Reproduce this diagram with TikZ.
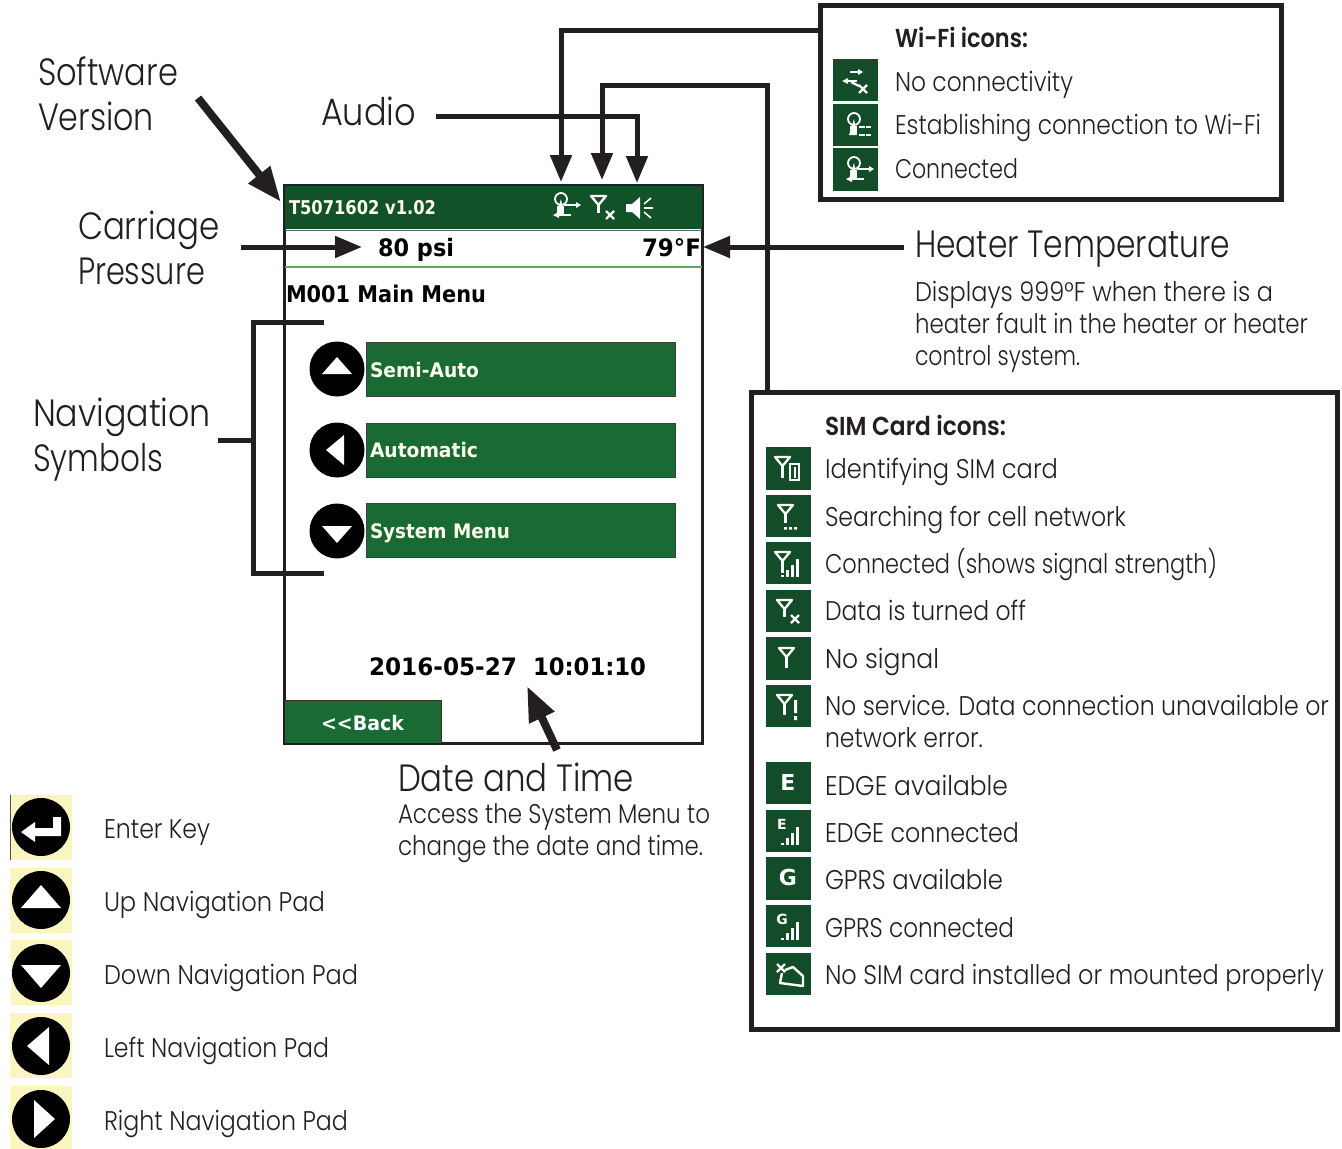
\documentclass[tikz,border=0pt]{standalone}
\usepackage{graphicx}
\usepackage{fontspec}
\usetikzlibrary{arrows.meta}
\newfontfamily\fut{Poppins}[UprightFont=* Light,BoldFont=* SemiBold]
\newfontfamily\scr{DejaVu Sans}
\definecolor{icongreen}{HTML}{134C28}
\definecolor{headgreen}{HTML}{125229}
\definecolor{btngreen}{HTML}{196A33}
\definecolor{keyyellow}{HTML}{FBF6C0}
\definecolor{ink}{HTML}{231F20}
\newsavebox\fbx
\newlength\fbl
\newcommand\fitw[2]{\sbox\fbx{#2}\fbl=\wd\fbx\pgfmathsetmacro\fitf{#1/\the\fbl}\scalebox{\fitf}[1]{\usebox\fbx}}
\tikzset{
 x=1pt,y=-1pt,
 lab/.style={anchor=base west,inner sep=0pt,outer sep=0pt,text=ink},
 conn/.style={draw=ink,line width=5pt,line cap=butt,line join=miter},
 arr/.style={conn,-{Triangle[length=27pt,width=21pt]}},
 bigarr/.style={draw=ink,line width=8pt,line cap=butt,-{Triangle[length=35pt,width=26pt]}},
 iconbg/.style={anchor=north west,fill=icongreen,inner sep=0pt,minimum width=45pt,text=white},
 btn/.style={anchor=north west,fill=btngreen,draw=black!75,line width=1pt,inner sep=0pt,minimum width=309pt,minimum height=54pt},
 wl/.style={draw=white,line width=2.3pt},
}
% text helpers
\newcommand\Ft[2]{\fut\fontsize{#1}{#1}\selectfont #2}
\newcommand\Sc[2]{\scr\bfseries\fontsize{#1}{#1}\selectfont #2}
% small pictograms, drawn relative to an icon's top-left corner
\newcommand\antennashape{%
 \draw[wl,line join=round] (9,10)--(24,10)--(16.5,19)--cycle;
 \draw[wl] (16.5,17)--(16.5,31);}
\newcommand\sbars{%
 \fill[white] (15,33) rectangle (18,35);
 \fill[white] (20,28) rectangle (23,35);
 \fill[white] (25,23) rectangle (28,35);
 \fill[white] (30,17) rectangle (33,35);}
\newcommand\xmark[2]{\draw[wl,line width=2.4pt] (#1-4,#2-4)--(#1+4,#2+4) (#1-4,#2+4)--(#1+4,#2-4);}
\newcommand\wifishape{%
 \draw[wl,line width=1.8pt] (21,15) circle (6);
 \fill[white] (21,15)--(24,31)--(16,31)--cycle;
 \fill[white] (17,22) rectangle (24,31);}
\newcommand\keybg[3]{\fill[keyyellow] (#1,#2) rectangle (72,#3);}
\begin{document}
\begin{tikzpicture}
\useasboundingbox (0,0) rectangle (1342,1149);
% ---------- screen ----------
\node[anchor=north west,minimum width=418.5pt,minimum height=558pt,inner sep=0pt,draw=ink,line width=3pt,fill=white] (screen) at (282.7,183.5) {};
\fill[headgreen] (285,186) rectangle (702,229);
\draw[draw=black!60,line width=.8pt] (285,230)--(702,230);
\draw[draw=green!40!black!60,line width=1.6pt] (285,267)--(702,267);
\fill[btngreen] (285,700) rectangle (441,743);
\draw[black!80,line width=1pt] (285,700)--(441,700)--(441,743);
\node[btn] (b1) at (366,342) {};
\node[btn] (b2) at (366,422.5) {};
\node[btn] (b3) at (366,503) {};
\node[lab,text=white!92!yellow] (ver) at (289,214) {\fitw{147}{\Sc{19}{T5071602 v1.02}}};
\node[lab,text=black] (psi) at (378,256) {\fitw{76}{\Sc{24}{80 psi}}};
\node[lab,text=black] (temp) at (642,256) {\fitw{59}{\Sc{24}{79°F}}};
\node[lab,text=black] (menu) at (286,302) {\fitw{200}{\Sc{23}{M001 Main Menu}}};
\node[lab,text=white!92!yellow] (t1) at (370,377) {\fitw{109}{\Sc{20}{Semi-Auto}}};
\node[lab,text=white!92!yellow] (t2) at (370,457) {\fitw{108}{\Sc{20}{Automatic}}};
\node[lab,text=white!92!yellow] (t3) at (370,538) {\fitw{140}{\Sc{20}{System Menu}}};
\node[lab,text=black] (date) at (369,675) {\fitw{148}{\Sc{24}{2016-05-27}}};
\node[lab,text=black] (clock) at (533,675) {\fitw{113}{\Sc{24}{10:01:10}}};
\node[lab,text=white] (back) at (321,730) {\fitw{83}{\Sc{20}{<{}<Back}}};
% screen nav symbols
\node[circle,fill=black,minimum size=55pt,inner sep=0pt] (c1) at (337,369) {};
\node[circle,fill=black,minimum size=55pt,inner sep=0pt] (c2) at (337,450) {};
\node[circle,fill=black,minimum size=55pt,inner sep=0pt] (c3) at (337,531) {};
\fill[white] (322,374)--(352,374)--(337,357)--cycle;
\fill[white] (326,450)--(344,435)--(344,465)--cycle;
\fill[white] (322,526)--(352,526)--(337,543)--cycle;
% header pictograms
\begin{scope}[shift={(540,184)}]
 \wifishape
 \draw[wl] (24,21)--(37,21); \fill[white] (36,18)--(41,21)--(36,24)--cycle;
 \draw[wl] (18,31)--(31,31); \fill[white] (19,28)--(13,31)--(19,34)--cycle;
\end{scope}
\begin{scope}[shift={(579,186)}]
 \draw[wl,line join=round] (12,10)--(27,10)--(19.5,19)--cycle;
 \draw[wl] (19.5,17)--(19.5,27);
 \xmark{31}{29}
\end{scope}
\fill[white] (626,204)--(632,204)--(640,197)--(640,219)--(632,212)--(626,212)--cycle;
\draw[wl,line width=1.6pt] (644,204)--(651,198) (644,208)--(653,208) (644,212)--(651,218);
% ---------- wifi box ----------
\node[anchor=north west,minimum width=461pt,minimum height=194pt,inner sep=0pt,draw=ink,line width=4.5pt] (wifibox) at (818,3) {};
\node[lab] (wifih) at (895,47) {\fitw{133}{\fut\bfseries\fontsize{26}{26}\selectfont Wi-Fi icons:}};
\node[iconbg,minimum height=42pt] (w1) at (833,59) {};
\node[iconbg,minimum height=42pt] (w2) at (833,104) {};
\node[iconbg,minimum height=43pt] (w3) at (833,148) {};
\node[lab] (wt1) at (895,91) {\fitw{178}{\Ft{27}{No connectivity}}};
\node[lab] (wt2) at (895,134) {\fitw{366}{\Ft{27}{Establishing connection to Wi-Fi}}};
\node[lab] (wt3) at (895,178) {\fitw{123}{\Ft{27}{Connected}}};
\begin{scope}[shift={(833,59)}]
 \draw[wl] (17,13)--(26,13); \fill[white] (25,10)--(30,13)--(25,16)--cycle;
 \draw[wl] (14,22)--(24,22); \fill[white] (15,19)--(9,22)--(15,25)--cycle;
 \draw[wl] (18,23)--(26,27); \xmark{30}{30}
\end{scope}
\begin{scope}[shift={(833,104)}]
 \wifishape
 \draw[wl,dash pattern=on 6pt off 1pt] (26,23)--(38,23);
 \draw[wl,dash pattern=on 6pt off 1pt] (26,31)--(38,31);
\end{scope}
\begin{scope}[shift={(833,148)}]
 \wifishape
 \draw[wl] (24,21)--(37,21); \fill[white] (36,18)--(41,21)--(36,24)--cycle;
 \draw[wl] (18,31)--(31,31); \fill[white] (19,28)--(13,31)--(19,34)--cycle;
\end{scope}
% ---------- SIM box ----------
\node[anchor=north west,minimum width=586pt,minimum height=637pt,inner sep=0pt,draw=ink,line width=4.5pt,fill=white] (simbox) at (749,390) {};
\node[lab] (simh) at (825,435) {\fitw{181}{\fut\bfseries\fontsize{26}{26}\selectfont SIM Card icons:}};
\node[iconbg,minimum height=43pt] (s1) at (766,447) {};
\node[iconbg,minimum height=42pt] (s2) at (766,495) {};
\node[iconbg,minimum height=42pt] (s3) at (766,542) {};
\node[iconbg,minimum height=42pt] (s4) at (766,590) {};
\node[iconbg,minimum height=43pt] (s5) at (766,637) {};
\node[iconbg,minimum height=42pt] (s6) at (766,685) {};
\node[iconbg,minimum height=42pt] (s7) at (766,762) {};
\node[iconbg,minimum height=42pt] (s8) at (766,810) {};
\node[iconbg,minimum height=43pt] (s9) at (766,857) {};
\node[iconbg,minimum height=42pt] (s10) at (766,905) {};
\node[iconbg,minimum height=42pt] (s11) at (766,953) {};
\node[inner sep=0pt,text=white] (e7) at (788,782) {\Sc{22}{E}};
\node[inner sep=0pt,text=white] (g9) at (788,877) {\Sc{22}{G}};
\begin{scope}[shift={(766,447)}]
 \antennashape
 \draw[white,line width=1.6pt] (24,17) rectangle (33,33);
 \fill[white] (27.5,20) rectangle (29.5,31);
\end{scope}
\begin{scope}[shift={(766,495)}]
 \draw[wl,line join=round] (12,10)--(27,10)--(19.5,19)--cycle;
 \draw[wl] (19.5,17)--(19.5,28);
 \fill[white] (18,32) rectangle (21,34.5) (23,32) rectangle (26,34.5) (28,32) rectangle (31,34.5);
\end{scope}
\begin{scope}[shift={(766,542)}]
 \antennashape \sbars
\end{scope}
\begin{scope}[shift={(766,590)}]
 \draw[wl,line join=round] (11,10)--(26,10)--(18.5,19)--cycle;
 \draw[wl] (18.5,17)--(18.5,27);
 \xmark{29}{29}
\end{scope}
\begin{scope}[shift={(766,637)}]
 \draw[wl,line join=round] (13,11)--(28,11)--(20.5,20)--cycle;
 \draw[wl] (20.5,18)--(20.5,31);
\end{scope}
\begin{scope}[shift={(766,685)}]
 \draw[wl,line join=round] (11,10)--(26,10)--(18.5,19)--cycle;
 \draw[wl] (18.5,17)--(18.5,30);
 \fill[white] (28,15) rectangle (31,28) (28,31) rectangle (31,35);
\end{scope}
\begin{scope}[shift={(766,810)}]
 \node[inner sep=0pt,text=white] (e8) at (16,14) {\Sc{14}{E}}; \sbars
\end{scope}
\begin{scope}[shift={(766,905)}]
 \node[inner sep=0pt,text=white] (g10) at (16,14) {\Sc{14}{G}}; \sbars
\end{scope}
\begin{scope}[shift={(766,953)}]
 \draw[white,line width=2.4pt,line join=round] (16,20)--(14,30)--(37,33)--(37,23)--(27,14)--(19,17);
 \xmark{15}{15}
\end{scope}
\node[lab] (st1) at (825,478) {\fitw{233}{\Ft{27}{Identifying SIM card}}};
\node[lab] (st2) at (825,526) {\fitw{301}{\Ft{27}{Searching for cell network}}};
\node[lab] (st3) at (825,573) {\fitw{392}{\Ft{27}{Connected (shows signal strength)}}};
\node[lab] (st4) at (825,620) {\fitw{201}{\Ft{27}{Data is turned off}}};
\node[lab] (st5) at (825,668) {\fitw{114}{\Ft{27}{No signal}}};
\node[lab] (st6) at (825,715) {\fitw{504}{\Ft{27}{No service. Data connection unavailable or}}};
\node[lab] (st6b) at (825,747) {\fitw{158}{\Ft{27}{network error.}}};
\node[lab] (st7) at (825,795) {\fitw{183}{\Ft{27}{EDGE available}}};
\node[lab] (st8) at (825,842) {\fitw{194}{\Ft{27}{EDGE connected}}};
\node[lab] (st9) at (825,889) {\fitw{178}{\Ft{27}{GPRS available}}};
\node[lab] (st10) at (825,937) {\fitw{189}{\Ft{27}{GPRS connected}}};
\node[lab] (st11) at (825,984) {\fitw{499}{\Ft{27}{No SIM card installed or mounted properly}}};
% ---------- callout labels ----------
\node[lab] (sw1) at (38,85) {\fitw{140}{\Ft{38}{Software}}};
\node[lab] (sw2) at (38,130) {\fitw{116}{\Ft{38}{Version}}};
\node[lab] (audio) at (321,125) {\fitw{95}{\Ft{38}{Audio}}};
\node[lab] (cp1) at (78,239) {\fitw{142}{\Ft{38}{Carriage}}};
\node[lab] (cp2) at (78,284) {\fitw{127}{\Ft{38}{Pressure}}};
\node[lab] (nv1) at (33,426) {\fitw{178}{\Ft{38}{Navigation}}};
\node[lab] (nv2) at (33,471) {\fitw{130}{\Ft{38}{Symbols}}};
\node[lab] (heat) at (915,257) {\fitw{315}{\Ft{38}{Heater Temperature}}};
\node[lab] (h1) at (915,301) {\fitw{358}{\Ft{27}{Displays 999°F when there is a}}};
\node[lab] (h2) at (915,333) {\fitw{393}{\Ft{27}{heater fault in the heater or heater}}};
\node[lab] (h3) at (915,365) {\fitw{165}{\Ft{27}{control system.}}};
\node[lab] (dt) at (398,791) {\fitw{236}{\Ft{38}{Date and Time}}};
\node[lab] (d1) at (398,823) {\fitw{312}{\Ft{27}{Access the System Menu to}}};
\node[lab] (d2) at (398,855) {\fitw{305}{\Ft{27}{change the date and time.}}};
% ---------- key ----------
\keybg{10}{795}{860}\keybg{10}{868}{933}\keybg{11}{940}{1005}\keybg{10}{1013}{1078}\keybg{10}{1086}{1149}
\draw[black!70,line width=.8pt] (10.5,795)--(10.5,860);
\node[circle,fill=black,minimum size=58pt,inner sep=0pt] (k1) at (41,827) {};
\node[circle,fill=black,minimum size=58pt,inner sep=0pt] (k2) at (41,900) {};
\node[circle,fill=black,minimum size=58pt,inner sep=0pt] (k3) at (41,973) {};
\node[circle,fill=black,minimum size=58pt,inner sep=0pt] (k4) at (41,1046) {};
\node[circle,fill=black,minimum size=58pt,inner sep=0pt] (k5) at (41,1119) {};
\fill[white] (53,817)--(61,817)--(61,836)--(35,836)--(35,842)--(21,832)--(35,822)--(35,828)--(53,828)--cycle;
\fill[white] (21,908)--(61,908)--(41,885)--cycle;
\fill[white] (21,965)--(61,965)--(41,988)--cycle;
\fill[white] (27,1046)--(49,1027)--(49,1065)--cycle;
\fill[white] (55,1119)--(34,1100)--(34,1138)--cycle;
\node[lab] (kt1) at (104,838) {\fitw{106}{\Ft{27}{Enter Key}}};
\node[lab] (kt2) at (104,911) {\fitw{221}{\Ft{27}{Up Navigation Pad}}};
\node[lab] (kt3) at (104,984) {\fitw{254}{\Ft{27}{Down Navigation Pad}}};
\node[lab] (kt4) at (104,1057) {\fitw{225}{\Ft{27}{Left Navigation Pad}}};
\node[lab] (kt5) at (104,1130) {\fitw{244}{\Ft{27}{Right Navigation Pad}}};
% ---------- connectors ----------
\coordinate (swtail) at (198,98);
\coordinate (swtip) at (281,202);
\coordinate (cptail) at (241,247);
\coordinate (cptip) at (362,247);
\coordinate (htail) at (904,247);
\coordinate (htip) at (703,247);
\coordinate (atail) at (436,116);
\coordinate (acorner) at (637,116);
\coordinate (atip) at (637,183);
\coordinate (wtail) at (818,30);
\coordinate (wcorner) at (561,30);
\coordinate (wtip) at (561,182);
\coordinate (stail) at (767,390);
\coordinate (sc1) at (767,85);
\coordinate (sc2) at (602,85);
\coordinate (stip) at (602,180);
\coordinate (ntop) at (324,322);
\coordinate (ntl) at (253,322);
\coordinate (nbl) at (253,573);
\coordinate (nbot) at (324,573);
\coordinate (nstub) at (218,440);
\coordinate (nmid) at (253,440);
\coordinate (dtail) at (557,750);
\coordinate (dtip) at (527,686);
\draw[bigarr] (swtail)--(swtip);
\draw[arr] (cptail)--(cptip);
\draw[arr] (htail)--(htip);
\draw[arr] (atail)--(acorner)--(atip);
\draw[arr] (wtail)--(wcorner)--(wtip);
\draw[arr] (stail)--(sc1)--(sc2)--(stip);
\draw[conn] (ntop)--(ntl)--(nbl)--(nbot);
\draw[conn] (nstub)--(nmid);
\draw[bigarr] (dtail)--(dtip);
\end{tikzpicture}
\end{document}
